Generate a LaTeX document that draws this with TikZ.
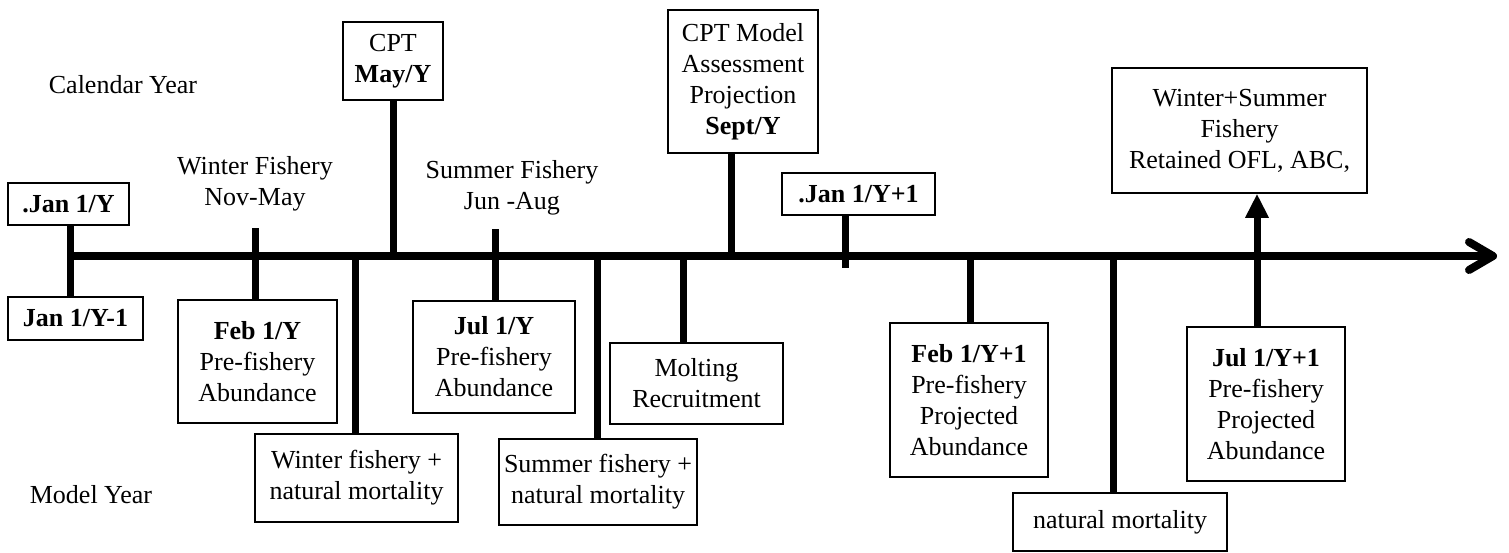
\documentclass[tikz,border=0pt]{standalone}
\usepackage{fontspec}
\setmainfont{Liberation Serif}
\usetikzlibrary{arrows.meta}

\begin{document}
\begin{tikzpicture}[x=0.5pt, y=-0.5pt,
    box/.style={draw, line width=0.75pt, align=center, inner sep=0pt, font=\fontsize{13}{15.5}\selectfont},
    lbl/.style={align=center, font=\fontsize{13}{15.5}\selectfont},
    stem/.style={line width=3.5pt}]
  \useasboundingbox (0,0) rectangle (1509,552);

  % Labels
  \node[lbl] (cal) at (123,85) {Calendar Year};
  \node[lbl] (model) at (91,495) {Model Year};
  \node[lbl] (winter) at (255,184) {Winter Fishery\\Nov-May};
  \node[lbl] (summer) at (512,188) {Summer Fishery\\Jun -Aug};

  % Boxes above the axis
  \node[box, minimum width=60.5pt, minimum height=21pt] (janY) at (68.5,204) {\textbf{.Jan 1/Y}};
  \node[box, minimum width=50pt, minimum height=39pt] (cpt) at (393,61) {CPT\\\textbf{May/Y}};
  \node[box, minimum width=75pt, minimum height=71.5pt] (sept) at (743,81.5) {CPT Model\\Assessment\\Projection\\\textbf{Sept/Y}};
  \node[box, minimum width=76.5pt, minimum height=21pt] (janY1) at (858.5,194) {\textbf{.Jan 1/Y+1}};
  \node[box, minimum width=127.5pt, minimum height=62.5pt] (ret) at (1239.5,130.5) {Winter+Summer\\Fishery\\Retained OFL, ABC,};

  % Boxes below the axis
  \node[box, minimum width=67.5pt, minimum height=21.5pt] (janYm1) at (75.5,318.5) {\textbf{Jan 1/Y-1}};
  \node[box, minimum width=79.5pt, minimum height=61.5pt] (feb) at (257.5,361.5) {\textbf{Feb 1/Y}\\Pre-fishery\\Abundance};
  \node[box, minimum width=81pt, minimum height=56pt] (jul) at (494,357) {\textbf{Jul 1/Y}\\Pre-fishery\\Abundance};
  \node[box, minimum width=86.5pt, minimum height=40.5pt] (molt) at (696.5,383.5) {Molting\\Recruitment};
  \node[box, minimum width=101.5pt, minimum height=44pt] (winM) at (356.5,478) {Winter fishery +\\natural mortality};
  \node[box, minimum width=99pt, minimum height=43pt] (sumM) at (598,482) {Summer fishery +\\natural mortality};
  \node[box, minimum width=79pt, minimum height=77pt] (feb1) at (969,400) {\textbf{Feb 1/Y+1}\\Pre-fishery\\Projected\\Abundance};
  \node[box, minimum width=79pt, minimum height=77pt] (jul1) at (1266,404) {\textbf{Jul 1/Y+1}\\Pre-fishery\\Projected\\Abundance};
  \node[box, minimum width=107pt, minimum height=29pt] (natM) at (1120,522) {natural mortality};

  % Axis
  \foreach \n/\x in {t1/70, t2/255, t3/393, t4/355, t5/495, t6/597, t7/683, t8/731, t9/845, t10/970, t11/1257, t12/1113}
  \coordinate (\n) at (\x,256);
  \coordinate (t2top) at (255,228);
  \coordinate (t5top) at (495,229);
  \coordinate (t9bot) at (845,268);
  \coordinate (tip) at (1497,256);
  \draw[line width=4pt, -{Straight Barb[length=12pt, width=14pt, round]}] (t1) -- (tip);

  % Ticks
  \draw[stem] (t1 |- janY.south) -- (t1 |- janYm1.north);
  \draw[stem] (t2top) -- (t2 |- feb.north);
  \draw[stem] (t3 |- cpt.south) -- (t3);
  \draw[stem] (t4) -- (t4 |- winM.north);
  \draw[stem] (t5top) -- (t5 |- jul.north);
  \draw[stem] (t6) -- (t6 |- sumM.north);
  \draw[stem] (t7) -- (t7 |- molt.north);
  \draw[stem] (t8 |- sept.south) -- (t8);
  \draw[stem] (t9 |- janY1.south) -- (t9bot);
  \draw[stem] (t10) -- (t10 |- feb1.north);
  \draw[stem] (t12) -- (t12 |- natM.north);
  \draw[stem, -{Triangle[length=12pt, width=11pt]}] (t11 |- jul1.north) -- (t11 |- ret.south);
\end{tikzpicture}
\end{document}
